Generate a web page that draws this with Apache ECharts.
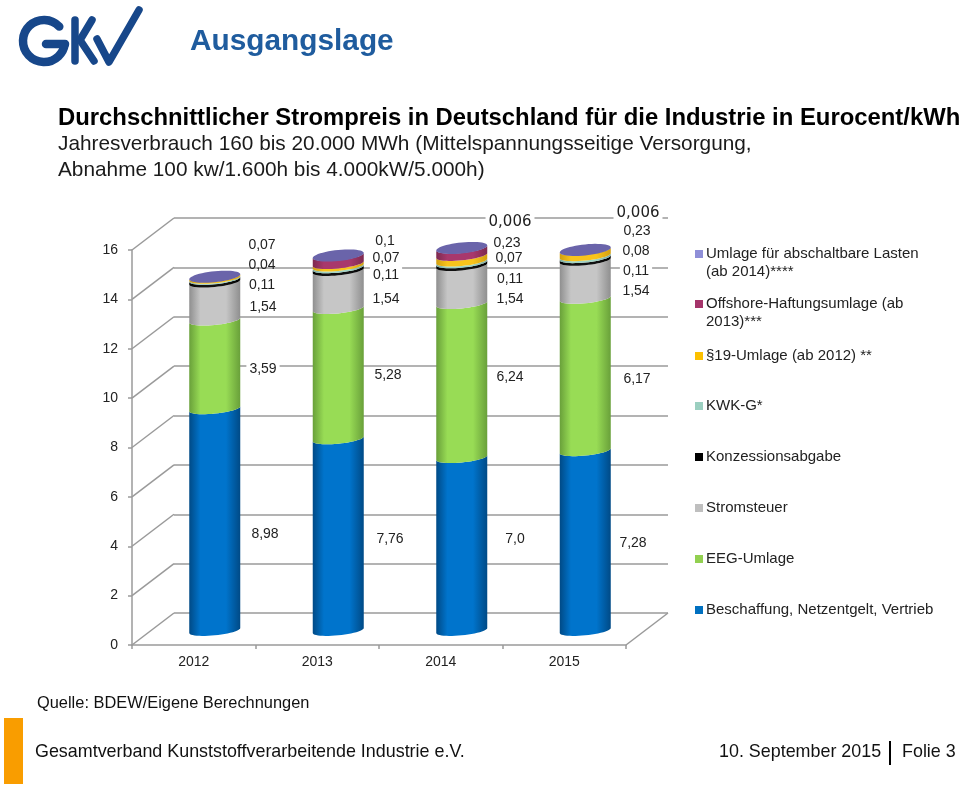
<!DOCTYPE html>
<html><head><meta charset="utf-8">
<style>html,body{margin:0;padding:0;background:#fff}#c{width:960px;height:785px}</style>
<script src="https://cdn.jsdelivr.net/npm/echarts@6/dist/echarts.min.js"></script>
</head><body><div id="c"></div>
<script>
// Data
const years = ['2012','2013','2014','2015'];
const yTicks = [0,2,4,6,8,10,12,14,16];
const beschaffung = [8.98,7.76,7.0,7.28];
const eeg = [3.59,5.28,6.24,6.17];
const stromsteuer = [1.54,1.54,1.54,1.54];
const konzession = [0.11,0.11,0.11,0.11];
const kwk = [0.04,0.07,0.07,0.08];
const umlage19 = [0.07,0.1,0.23,0.23];
// Offshore carries no readable printed value in the reference: band height
const offshore = [0,0.33,0.3,0];
const abschaltbar = [0,0,0.006,0.006];

// Printed labels, as they appear in the reference
const lblBeschaffung = ['8,98','7,76','7,0','7,28'];
const lblEeg = ['3,59','5,28','6,24','6,17'];
const lblSteuer = ['1,54','1,54','1,54','1,54'];
const lblKonz = ['0,11','0,11','0,11','0,11'];
const lblA = ['0,04','0,07','0,07','0,08'];
const lblB = ['0,07','0,1','0,23','0,23'];
const lblTop = ['','','0,006','0,006'];

const FONT = '"Liberation Sans", Arial, sans-serif';
const seriesDefs = [
 {name:'Beschaffung, Netzentgelt, Vertrieb', data:beschaffung, c:'#0074cc', e:'#004a86', leg:'#0070c0', mid:610},
 {name:'EEG-Umlage', data:eeg, c:'#98dc55', e:'#69a03a', leg:'#92d050', mid:559},
 {name:'Stromsteuer', data:stromsteuer, c:'#c6c6c6', e:'#8f8f8f', leg:'#bfbfbf', mid:508},
 {name:'Konzessionsabgabe', data:konzession, c:'#111111', e:'#000000', leg:'#000000', mid:457},
 {name:'KWK-G*', data:kwk, c:'#9fd3c4', e:'#7aa99b', leg:'#9bcfc0', mid:406},
 {name:'§19-Umlage (ab 2012) **', data:umlage19, c:'#f8c41c', e:'#d29f10', leg:'#fcc000', mid:356},
 {name:'Offshore-Haftungsumlage (ab\n2013)***', data:offshore, c:'#a8386c', e:'#7d2a50', leg:'#a5346a', mid:304},
 {name:'Umlage für abschaltbare Lasten\n(ab 2014)****', data:abschaltbar, c:'#6a64aa', e:'#5a5496', leg:'#8f8fd8', mid:254}
];

const DX = 21, DY = -14.5, RY = 4.8, TILT = 2.5, WIDTH_RATIO = 51/123.5;
const stackBelow = i => seriesDefs.slice(0,i);

function arc(cx, cy, rx, rev){
  const pts=[];
  for(let k=0;k<=24;k++){
    const t=Math.PI*k/24;
    pts.push([cx+rx*Math.cos(t), cy+RY*Math.sin(t)-TILT*Math.cos(t)]);
  }
  return rev?pts.reverse():pts;
}
function cylinder(sIdx, def){
  return function(params, api){
    const i = api.value(0);
    const base = stackBelow(sIdx).reduce((a,d)=>a+d.data[i],0);
    const val = def.data[i];
    const rx = api.size([1,0])[0]*WIDTH_RATIO/2;
    const x = api.coord([i,0])[0]+DX;
    const y0 = api.coord([i,base])[1]+DY;
    const y1 = api.coord([i,base+val])[1]+DY;
    const fill = new echarts.graphic.LinearGradient(0,0,1,0,[
      {offset:0,color:def.e},{offset:0.22,color:def.c},{offset:0.72,color:def.c},{offset:1,color:def.e}]);
    const children=[];
    if(val>0){
      children.push({type:'polygon',shape:{points:arc(x,y1,rx,true).concat(arc(x,y0,rx,false))},
        style:{fill:fill}});
    }
    if(sIdx===seriesDefs.length-1){
      const top=[];
      for(let k=0;k<48;k++){const t=2*Math.PI*k/48;
        top.push([x+rx*Math.cos(t), y1+RY*1.15*Math.sin(t)-TILT*Math.cos(t)]);}
      children.push({type:'polygon',shape:{points:top},style:{fill:'#6a64aa'}});
    }
    return {type:'group',children};
  };
}

const AXIS='#9a9a9a';
const series = seriesDefs.map((d,idx)=>({
  type:'custom', name:d.name, xAxisIndex:0, yAxisIndex:0, z:5+idx,
  itemStyle:{color:d.leg}, silent:true,
  renderItem:cylinder(idx,d), encode:{x:0,y:1},
  data:years.map((y,i)=>[i,d.data[i]])
}));
// Slanted side-wall lines, from each front tick to the back wall
series.push({
  type:'custom', name:'wall', z:1, silent:true, xAxisIndex:0, yAxisIndex:0,
  renderItem(params,api){
    const v=api.value(1), p=api.coord([0,v]), w=api.size([1,0])[0];
    return {type:'line',shape:{x1:p[0]-w/2,y1:p[1],x2:p[0]-w/2+42,y2:p[1]-32},style:{stroke:AXIS,lineWidth:1.5}};
  },
  data:yTicks.map(v=>[0,v])
});
series.push({
  type:'custom', name:'floor', z:1, silent:true, xAxisIndex:0, yAxisIndex:0,
  renderItem(params,api){
    const p=api.coord([3,0]), w=api.size([1,0])[0];
    return {type:'line',shape:{x1:p[0]+w/2,y1:p[1],x2:p[0]+w/2+42,y2:p[1]-32},style:{stroke:AXIS,lineWidth:1.5}};
  },
  data:[[3,0]]
});
// carrier of the back wall grid
series.push({type:'line',name:'back',xAxisIndex:1,yAxisIndex:1,data:[],silent:true});

const LEGFS=15;
const legends = seriesDefs.map(d=>({
  show:true, data:[d.name], left:695, top:d.mid-7.5, orient:'vertical',
  icon:'rect', itemWidth:8, itemHeight:8, itemGap:0, selectedMode:false, padding:0,
  formatter:n=>n.split('\n')[0],
  textStyle:{fontFamily:FONT,fontSize:LEGFS,color:'#222',padding:[1,0,0,-2]}
}));

function txt(x,y,text,size,opts){
  return {type:'text',x,y,z:20,silent:true,
    style:Object.assign({text,fontFamily:FONT,fontSize:size,fill:'#1a1a1a',align:'left',verticalAlign:'middle'},opts||{})};
}
function valLabel(x,y,text,white){
  const st={text,fontFamily:FONT,fontSize:14,fill:'#222',align:'center',verticalAlign:'middle'};
  if(white){st.backgroundColor='#fff';st.padding=[1,3];}
  return {type:'text',x,y,z:20,silent:true,style:st};
}
const labelCenters = [
 {rows:[[lblB,245,262],[lblA,265,262,true],[lblKonz,285,262],[lblSteuer,307,263],[lblEeg,369,263],[lblBeschaffung,534,265]]},
 {rows:[[lblB,241,385],[lblA,258,386],[lblKonz,275,386],[lblSteuer,299,386],[lblEeg,375,388],[lblBeschaffung,539,390]]},
 {rows:[[lblTop,222,510],[lblB,243,507],[lblA,258,509],[lblKonz,279,510],[lblSteuer,299,510],[lblEeg,377,510],[lblBeschaffung,539,515]]},
 {rows:[[lblTop,213,638],[lblB,231,637],[lblA,251,636],[lblKonz,271,636],[lblSteuer,291,636],[lblEeg,379,637],[lblBeschaffung,543,633]]}
];
const valueTexts=[];
labelCenters.forEach((c,i)=>c.rows.forEach(r=>{
  if(!r[0][i]) return;
  const el=valLabel(r[2],r[1],r[0][i],!r[3]);
  if(r[0]===lblTop){el.style.fontFamily='"DejaVu Sans", sans-serif';el.style.fontSize=15;}
  valueTexts.push(el);
}));

const navy='#17478a';
const stroke=w=>({fill:null,stroke:navy,lineWidth:w,lineCap:'round',lineJoin:'round'});
const logo=[
 {type:'arc',z:20,silent:true,shape:{cx:44,cy:41,r:21,startAngle:-Math.PI*0.24,endAngle:Math.PI*0.05,clockwise:false},style:stroke(8.5)},
 {type:'polyline',z:20,silent:true,shape:{points:[[65,44],[46,44]]},style:stroke(8.5)},
 {type:'polyline',z:20,silent:true,shape:{points:[[75,20],[75,61]]},style:stroke(7.5)},
 {type:'polyline',z:20,silent:true,shape:{points:[[92,20],[80,40],[94,61]]},style:stroke(7.5)},
 {type:'polyline',z:20,silent:true,shape:{points:[[97,39],[109,62],[139,10]]},style:stroke(7.5)}
];

const legendSecondLines = seriesDefs.filter(d=>d.name.includes('\n')).map(d=>
  txt(706,d.mid+17.5,d.name.split('\n')[1],LEGFS,{fill:'#222'}));

const texts=[
 txt(190,42,'Ausgangslage',29.8,{fontWeight:'bold',fill:'#1f5c9e'}),
 txt(58,118,'Durchschnittlicher Strompreis in Deutschland für die Industrie in Eurocent/kWh',23.85,{fontWeight:'bold',fill:'#000'}),
 txt(58,144,'Jahresverbrauch 160 bis 20.000 MWh (Mittelspannungsseitige Versorgung,',20.8),
 txt(58,170,'Abnahme 100 kw/1.600h bis 4.000kW/5.000h)',20.8),
 txt(37,703,'Quelle: BDEW/Eigene Berechnungen',16.4,{fill:'#111'}),
 txt(35,752,'Gesamtverband Kunststoffverarbeitende Industrie e.V.',17.9,{fill:'#111'}),
 txt(719,752,'10. September 2015',17.9,{fill:'#111'}),
 txt(902,752,'Folie 3',17.9,{fill:'#111'}),
 {type:'rect',z:20,silent:true,shape:{x:889,y:741,width:2,height:24},style:{fill:'#000'}},
 {type:'rect',z:20,silent:true,shape:{x:4,y:718,width:19,height:66},style:{fill:'#f99d00'}}
];

const chart=echarts.init(document.getElementById('c'),null,{renderer:'canvas'});
chart.setOption({
  backgroundColor:'#fff', animation:false,
  tooltip:{show:false},
  legend:legends,
  grid:[
    {left:132,top:250,width:494,height:395},
    {left:174,top:218,width:494,height:395}
  ],
  xAxis:[
    {type:'category',gridIndex:0,data:years,boundaryGap:true,
     axisLine:{lineStyle:{color:AXIS,width:1.5}},
     axisTick:{show:true,length:4,lineStyle:{color:AXIS,width:1.5}},
     axisLabel:{fontFamily:FONT,fontSize:14,color:'#222',margin:10}},
    {type:'category',gridIndex:1,data:years,show:false}
  ],
  yAxis:[
    {type:'value',gridIndex:0,min:0,max:16,interval:2,
     axisLine:{show:true,lineStyle:{color:AXIS,width:1.5}},
     axisTick:{show:true,length:4,lineStyle:{color:AXIS,width:1.5}},
     splitLine:{show:false},
     axisLabel:{fontFamily:FONT,fontSize:14,color:'#222',margin:14,padding:[2,0,0,0]}},
    {type:'value',gridIndex:1,min:0,max:16,interval:2,
     axisLine:{show:false},axisTick:{show:false},axisLabel:{show:false},
     splitLine:{show:true,lineStyle:{color:AXIS,width:1.5}}}
  ],
  series,
  graphic:{elements:[...logo,...texts,...legendSecondLines,...valueTexts]}
});
</script></body></html>
